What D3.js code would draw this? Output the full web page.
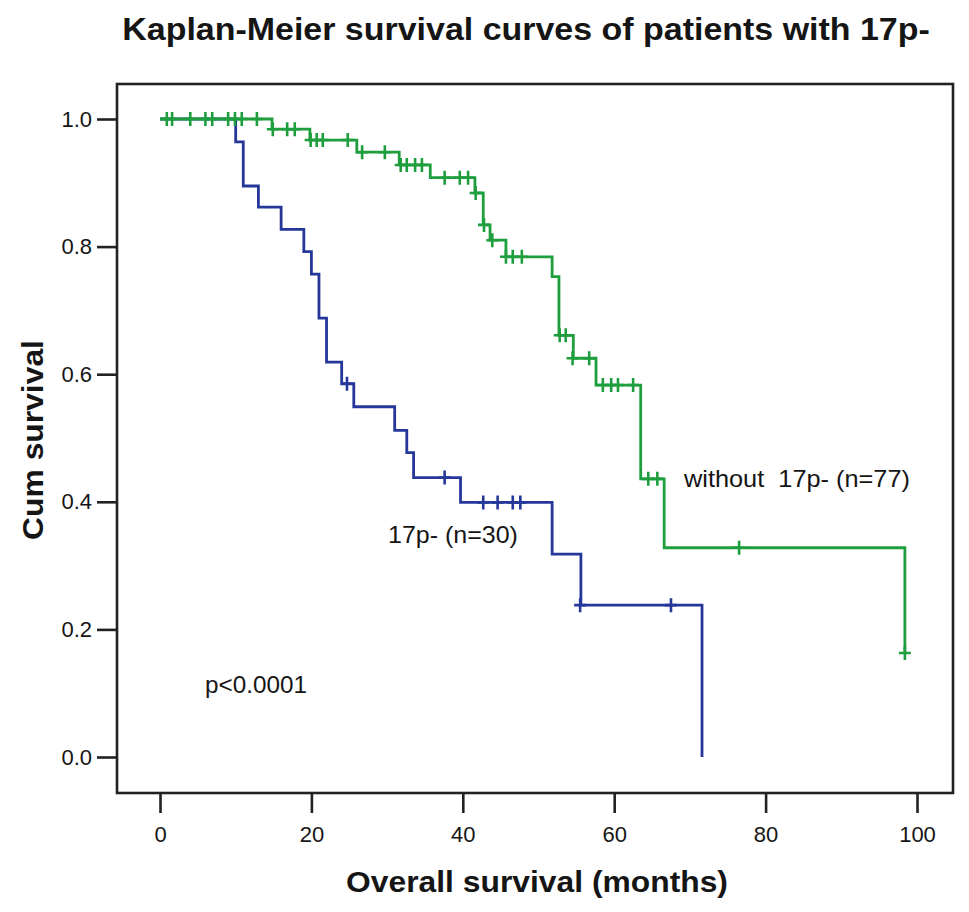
<!DOCTYPE html>
<html><head><meta charset="utf-8">
<script src="https://cdn.jsdelivr.net/npm/d3@7"></script>
<style>
html,body{margin:0;padding:0;background:#fff;}
text{font-family:"Liberation Sans",Arial,sans-serif;fill:#151515;}
</style></head>
<body><svg id="c" width="969" height="912"></svg>
<script>
// ---- data ----
const xTicks = [0, 20, 40, 60, 80, 100];
const yTicks = [0.0, 0.2, 0.4, 0.6, 0.8, 1.0];

// 17p- (n=30): step times and survival after each event
const blueTimes = [0, 10, 11, 13, 16, 19, 20, 21, 22, 24, 25.6, 31, 32.6, 33.5, 39.7, 51.8, 55.6, 71.6];
const blueSurv  = [1.0, 0.964, 0.895, 0.862, 0.827, 0.792, 0.757, 0.688, 0.619, 0.585, 0.549, 0.512, 0.477, 0.438, 0.399, 0.318, 0.238, 0.0];
const blueCensT = [24.7, 37.6, 42.7, 44.6, 46.6, 47.6, 55.5, 67.5];
const blueCensS = [0.585, 0.438, 0.399, 0.399, 0.399, 0.399, 0.238, 0.238];

// without 17p- (n=77)
const greenTimes = [0, 14.8, 19.8, 26, 31.6, 35.7, 41.6, 42.7, 43.6, 45.7, 51.8, 52.7, 54.6, 57.6, 63.5, 66.6, 98.4];
const greenSurv  = [1.0, 0.984, 0.967, 0.948, 0.928, 0.908, 0.884, 0.834, 0.810, 0.784, 0.753, 0.661, 0.625, 0.583, 0.436, 0.328, 0.163];
const greenCensT = [0.9, 1.6, 4.0, 6.0, 6.9, 9.0, 9.9, 10.8, 12.8,
                    14.9, 16.8, 17.8,
                    19.9, 20.7, 21.5, 24.8,
                    26.7, 29.7,
                    31.8, 32.6, 33.7, 34.6,
                    37.6, 39.6, 40.7,
                    41.7, 42.8, 43.9,
                    45.7, 46.6, 47.8,
                    52.8, 53.6,
                    54.5, 56.7,
                    58.5, 59.6, 60.5, 62.5,
                    64.5, 65.7,
                    76.5, 98.4];
const greenCensS = [1, 1, 1, 1, 1, 1, 1, 1, 1,
                    0.984, 0.984, 0.984,
                    0.967, 0.967, 0.967, 0.967,
                    0.948, 0.948,
                    0.928, 0.928, 0.928, 0.928,
                    0.908, 0.908, 0.908,
                    0.884, 0.834, 0.810,
                    0.784, 0.784, 0.784,
                    0.661, 0.661,
                    0.625, 0.625,
                    0.583, 0.583, 0.583, 0.583,
                    0.436, 0.436,
                    0.328, 0.163];

const titleText = "Kaplan-Meier survival curves of patients with 17p-";
const xTitle = "Overall survival (months)";
const yTitle = "Cum survival";
const labelGreen = "without  17p- (n=77)";
const labelBlue = "17p- (n=30)";
const pText = "p<0.0001";

// ---- layout ----
const svg = d3.select("#c");
const box = {l: 117, t: 84, r: 953, b: 793};
const x = d3.scaleLinear().domain([0, 100]).range([160, 917]);
const y = d3.scaleLinear().domain([0, 1]).range([757, 119]);
const axisCol = "#222";
const green = "#1f9e3e";
const blue = "#26379a";

// frame
svg.append("rect").attr("x", box.l).attr("y", box.t)
  .attr("width", box.r - box.l).attr("height", box.b - box.t)
  .attr("fill", "none").attr("stroke", axisCol).attr("stroke-width", 2.6);

// y axis
const yAxis = svg.append("g").attr("transform", `translate(${box.l},0)`)
  .call(d3.axisLeft(y).tickValues(yTicks).tickFormat(d3.format(".1f")).tickSize(20).tickPadding(5));
yAxis.select(".domain").remove();
yAxis.selectAll("line").attr("stroke", axisCol).attr("stroke-width", 2.6);
yAxis.selectAll("text").style("font-size", "22px").attr("fill", "#151515");

// x axis (ticks hang below the frame)
const xAxis = svg.append("g").attr("transform", `translate(0,${box.b})`)
  .call(d3.axisBottom(x).tickValues(xTicks).tickSize(20).tickPadding(13));
xAxis.select(".domain").remove();
xAxis.selectAll("line").attr("stroke", axisCol).attr("stroke-width", 2.6);
xAxis.selectAll("text").style("font-size", "22px").attr("fill", "#151515");

// curves
const line = d3.line().x(d => x(d[0])).y(d => y(d[1])).curve(d3.curveStepAfter);
function drawCurve(times, surv, cT, cS, col) {
  const pts = times.map((t, i) => [t, surv[i]]);
  svg.append("path").datum(pts).attr("d", line)
    .attr("fill", "none").attr("stroke", col).attr("stroke-width", 2.8)
    .attr("stroke-linejoin", "miter");
  const cens = cT.map((t, i) => [t, cS[i]]);
  svg.append("g").selectAll("path").data(cens).join("path")
    .attr("d", d => {
      const cx = x(d[0]), cy = y(d[1]);
      return `M${cx},${cy - 7}V${cy + 7}M${cx - 6},${cy}H${cx + 6}`;
    })
    .attr("stroke", col).attr("stroke-width", 2.6).attr("fill", "none");
}
drawCurve(blueTimes, blueSurv, blueCensT, blueCensS, blue);
drawCurve(greenTimes, greenSurv, greenCensT, greenCensS, green);

// texts: set font size for the glyph height, then squeeze/stretch horizontally to the measured width
function placeText(str, cx, cy, fs, targetW, opts) {
  opts = opts || {};
  const g = svg.append("g").attr("transform", `translate(${cx},${cy})` + (opts.rotate ? ` rotate(${opts.rotate})` : ""));
  const t = g.append("text").attr("text-anchor", opts.anchor || "middle")
    .style("font-size", fs + "px").style("font-weight", opts.bold ? "bold" : "normal")
    .style("white-space", "pre").text(str);
  const w = t.node().getComputedTextLength();
  t.attr("transform", `scale(${targetW / w},1)`);
  return t;
}
placeText(titleText, 526, 40, 31, 808, {bold: true});
placeText(xTitle, 537, 892, 29, 382, {bold: true});
placeText(yTitle, 43, 440, 30, 200, {bold: true, rotate: -90});
placeText(labelGreen, 684, 487, 23, 226, {anchor: "start"});
placeText(labelBlue, 388, 543, 24, 130, {anchor: "start"});
placeText(pText, 205, 693, 24, 102, {anchor: "start"});
</script></body></html>
